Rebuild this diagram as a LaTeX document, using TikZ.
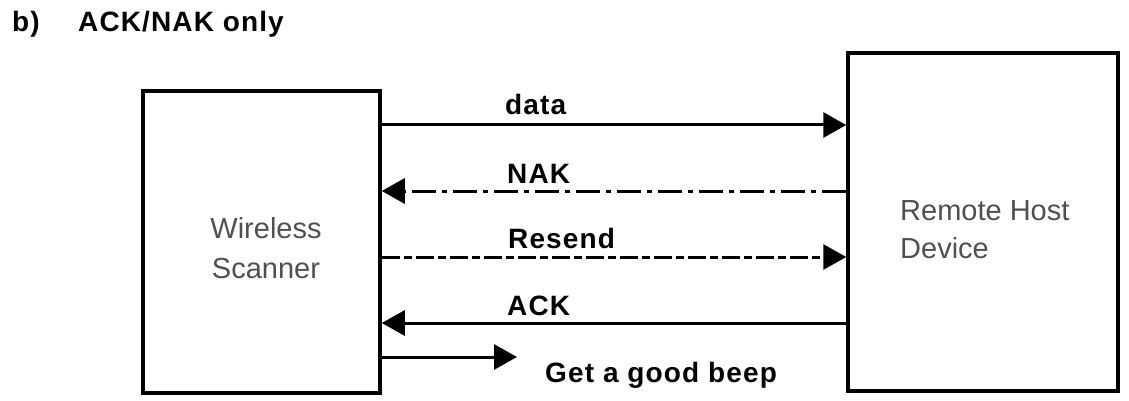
\documentclass[tikz,border=0pt]{standalone}
\usepackage{fontspec}
\setmainfont{Liberation Sans}
\usetikzlibrary{arrows.meta}
\definecolor{boxtext}{HTML}{505050}
\tikzset{
  box/.style={draw=black, line width=3.5pt, rectangle, inner sep=0pt},
  msg/.style={line width=3pt, -{Triangle[length=23pt,width=25pt]}},
  lbl/.style={font=\bfseries\fontsize{28}{32}\selectfont\addfontfeatures{LetterSpace=4}, anchor=base west, inner sep=0pt},
  boxlbl/.style={font=\fontsize{29}{36}\selectfont, text=boxtext, inner sep=0pt},
  nakdash/.style={dash pattern=on 24pt off 6pt on 5pt off 6pt},
  resdash/.style={dash pattern=on 18pt off 4pt on 8pt off 4pt}
}
\begin{document}
\begin{tikzpicture}[x=1pt,y=-1pt]
\useasboundingbox (0,0) rectangle (1129,401);
% title
\node[lbl] (tb) at (12,32) {b)};
\node[lbl] (tt) at (78,32) {ACK/NAK only};
% boxes
\node[box, minimum width=237pt, minimum height=302pt] (sc) at (261.5,242) {};
\node[box, minimum width=270pt, minimum height=338pt] (rh) at (983,222) {};
% box texts
\node[boxlbl, anchor=base] (sc1) at (266,238) {Wireless};
\node[boxlbl, anchor=base] (sc2) at (266,278) {Scanner};
\node[boxlbl, anchor=base west] (rh1) at (900,220) {Remote Host};
\node[boxlbl, anchor=base west] (rh2) at (900,258) {Device};
% arrows
\draw[msg] (sc.east |- 0,125) -- (rh.west |- 0,125);
\draw[msg, nakdash] (rh.west |- 0,191) -- (sc.east |- 0,191);
\draw[msg, resdash] (sc.east |- 0,257) -- (rh.west |- 0,257);
\draw[msg] (rh.west |- 0,323) -- (sc.east |- 0,323);
\coordinate (beepend) at (517,357);
\draw[msg] (sc.east |- beepend) -- (beepend);
% labels
\node[lbl] (ldata) at (505,115) {data};
\node[lbl] (lnak) at (507,183) {NAK};
\node[lbl] (lres) at (508,248) {Resend};
\node[lbl] (lack) at (507,315) {ACK};
\node[lbl] (lbeep) at (545,382) {Get a good beep};
\end{tikzpicture}
\end{document}
